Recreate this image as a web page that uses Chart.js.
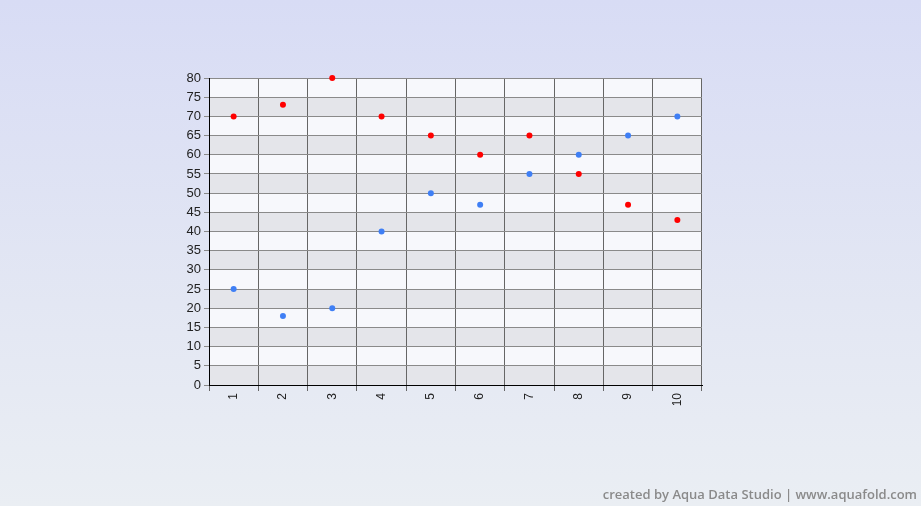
<!DOCTYPE html>
<html>
<head>
<meta charset="utf-8">
<script src="https://cdn.jsdelivr.net/npm/chart.js@4.4.0/dist/chart.umd.min.js"></script>
<style>
  html, body { margin: 0; padding: 0; }
  body {
    width: 921px; height: 506px; overflow: hidden; position: relative;
    background: linear-gradient(to bottom, #d8dcf5 0%, #e3e7f3 60%, #eaeef3 100%);
  }
  #wrap { position: absolute; left: 0; top: 0; width: 921px; height: 506px; }
  #credit {
    position: absolute; right: 4px; bottom: 3px;
    font-family: "Open Sans", "DejaVu Sans", sans-serif; font-size: 13px;
    font-weight: 600; color: #8a8a8a;
  }
</style>
</head>
<body>
<div id="wrap"><canvas id="chart" width="921" height="506"></canvas></div>
<div id="credit">created by Aqua Data Studio | www.aquafold.com</div>
<script>
// categories along x
const categories = ["1", "2", "3", "4", "5", "6", "7", "8", "9", "10"];
// series values
const redValues = [70, 73, 80, 70, 65, 60, 65, 55, 47, 43];
const blueValues = [25, 18, 20, 40, 50, 47, 55, 60, 65, 70];
// y axis ticks
const yMin = 0, yMax = 80, yStep = 5;

// alternating horizontal bands behind the grid
const bandPlugin = {
  id: "bands",
  beforeDraw(chart) {
    const { ctx, chartArea: a, scales: { y } } = chart;
    ctx.save();
    for (let v = yMin; v < yMax; v += yStep) {
      const top = y.getPixelForValue(v + yStep);
      const bot = y.getPixelForValue(v);
      ctx.fillStyle = ((v / yStep) % 2 === 0) ? "#e4e5ea" : "#f7f8fc";
      ctx.fillRect(a.left, top, a.right - a.left, bot - top);
    }
    ctx.restore();
  }
};

new Chart(document.getElementById("chart"), {
  type: "line",
  data: {
    labels: categories,
    datasets: [
      {
        label: "Series 1",
        data: redValues,
        showLine: false,
        clip: false,
        pointRadius: 3,
        pointBackgroundColor: "#ff0000",
        pointBorderColor: "#ff0000",
        pointBorderWidth: 0
      },
      {
        label: "Series 2",
        data: blueValues,
        showLine: false,
        clip: false,
        pointRadius: 3,
        pointBackgroundColor: "#3f7ff5",
        pointBorderColor: "#3f7ff5",
        pointBorderWidth: 0
      }
    ]
  },
  options: {
    responsive: false,
    animation: false,
    layout: { padding: { left: 170, right: 219, top: 78, bottom: 91 } },
    plugins: { legend: { display: false }, tooltip: { enabled: false } },
    scales: {
      x: {
        type: "category",
        offset: true,
        afterFit: s => { s.height = 30; },
        grid: { offset: true, color: "#666666", lineWidth: 1, tickLength: 6, drawTicks: true },
        border: { color: "#000000", width: 1 },
        ticks: {
          minRotation: 90, maxRotation: 90,
          color: "#222222",
          font: { family: "Liberation Sans, Arial, sans-serif", size: 12 },
          padding: 2
        }
      },
      y: {
        min: yMin, max: yMax,
        afterFit: s => { s.width = 39; },
        grid: { color: "#8a8a8a", lineWidth: 1, tickLength: 5 },
        border: { color: "#000000", width: 1 },
        ticks: {
          stepSize: yStep,
          color: "#222222",
          font: { family: "Liberation Sans, Arial, sans-serif", size: 13 },
          padding: 3
        }
      }
    }
  },
  plugins: [bandPlugin]
});
</script>
</body>
</html>
